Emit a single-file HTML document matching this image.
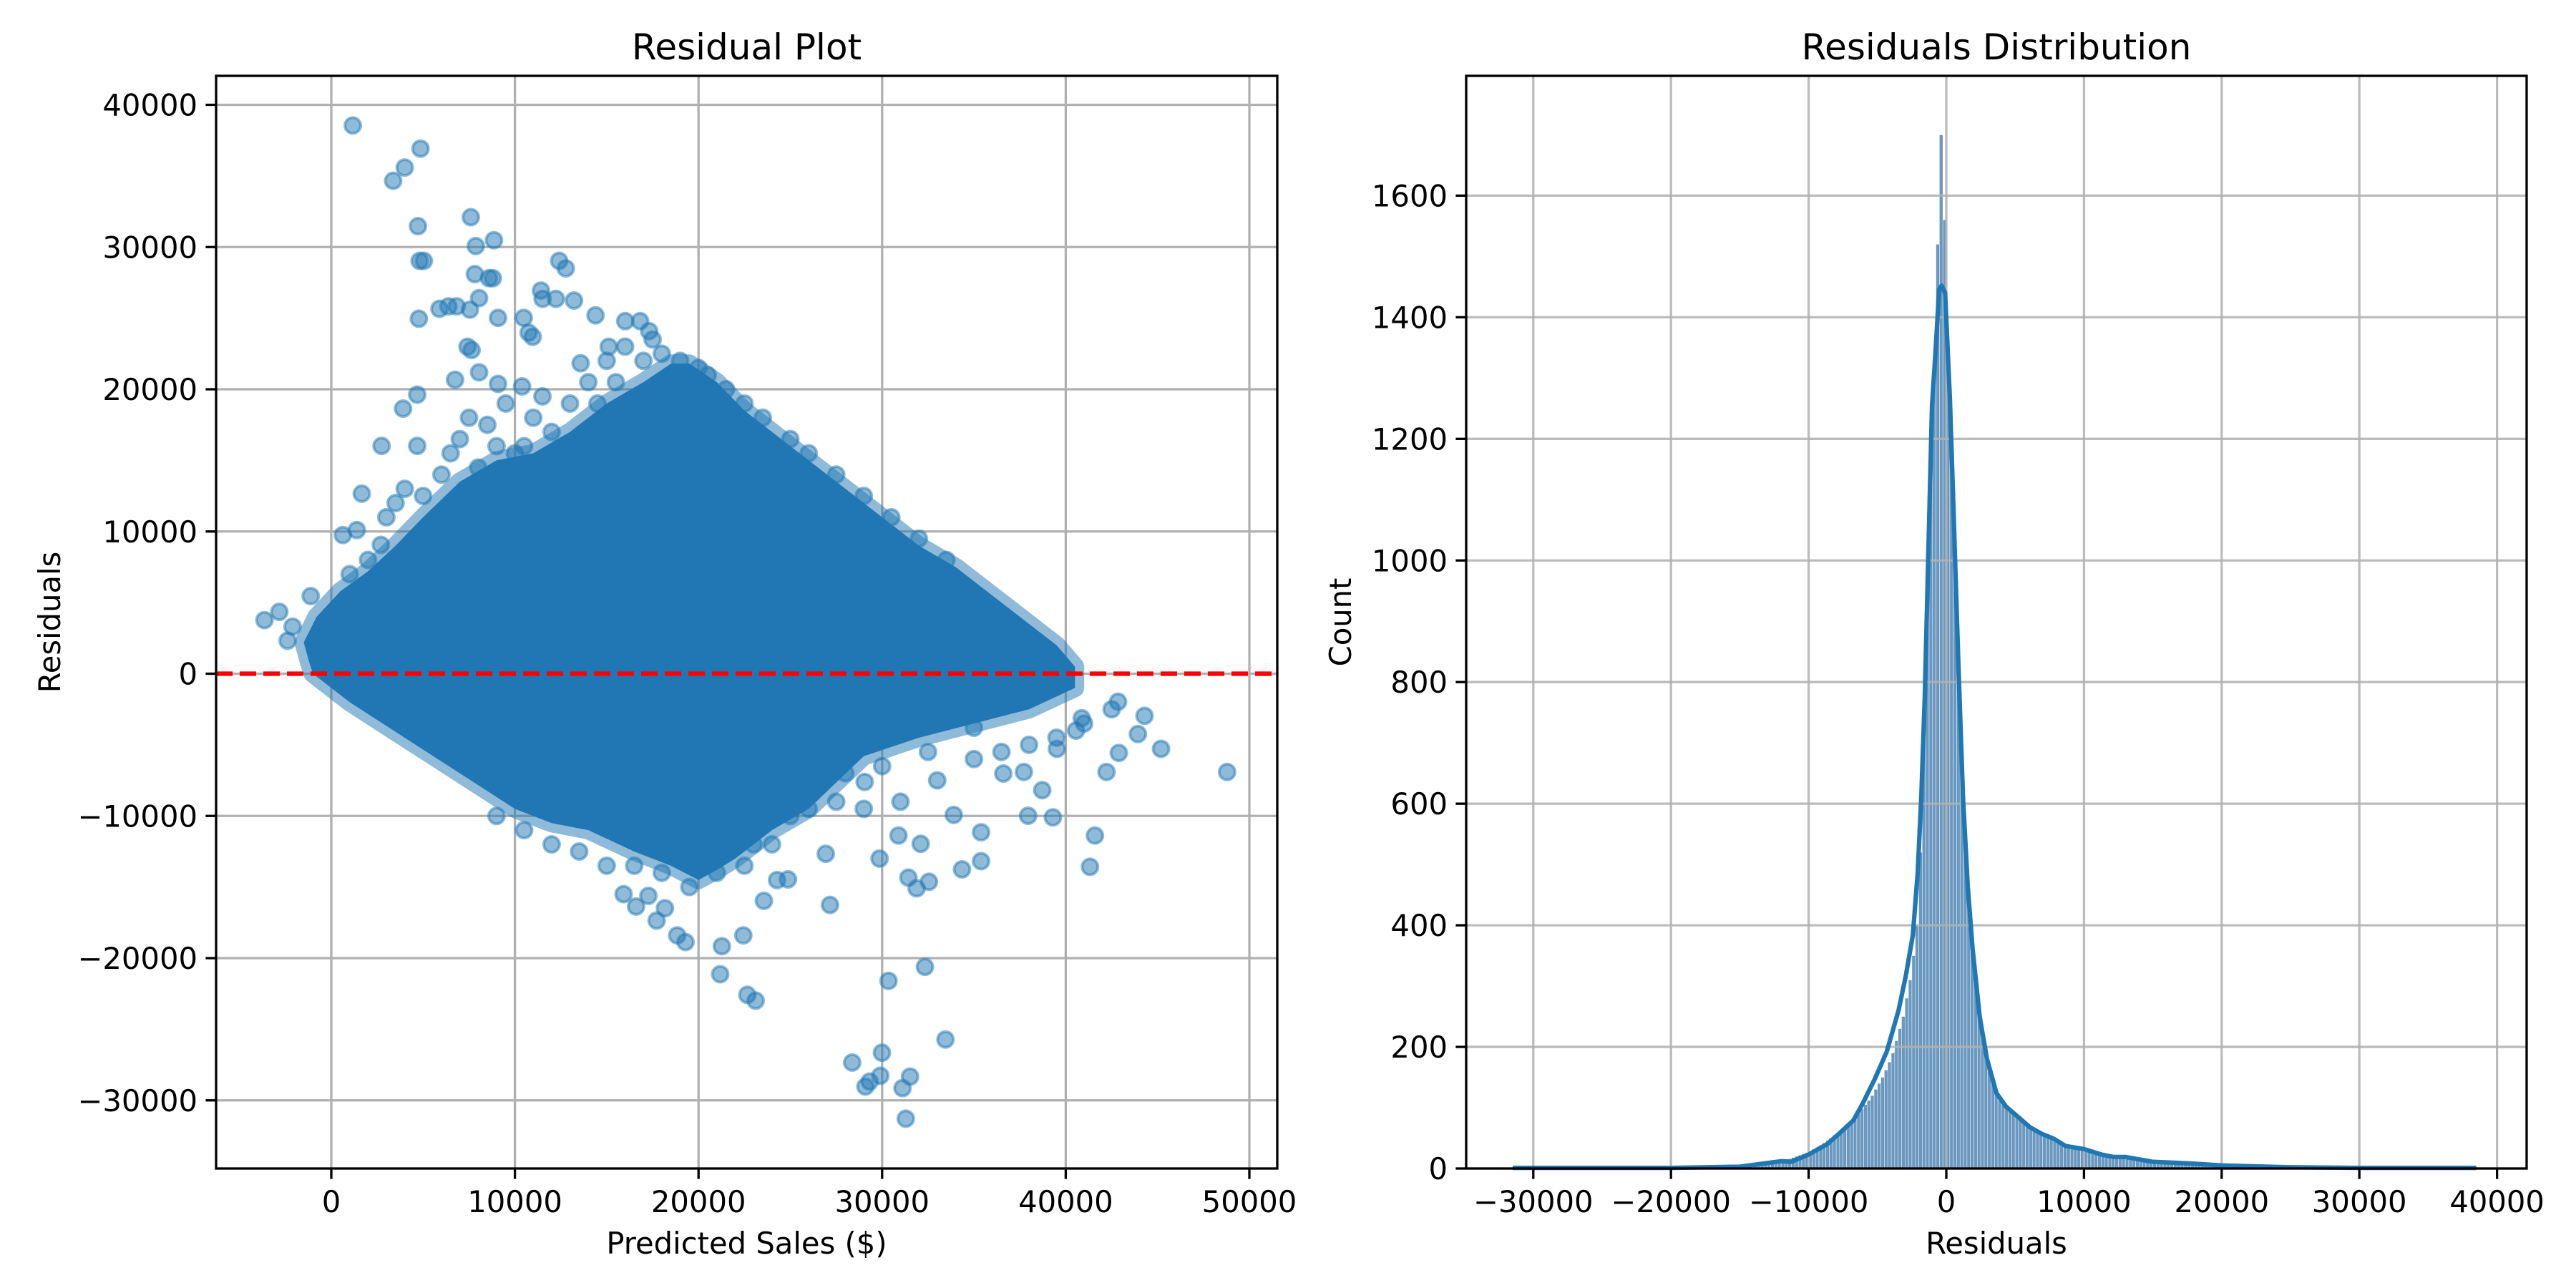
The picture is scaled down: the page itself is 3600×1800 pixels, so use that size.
<!DOCTYPE html>
<html><head><meta charset="utf-8"><style>
html,body{margin:0;padding:0;background:#fff}
svg{display:block}
text{font-family:"DejaVu Sans","Liberation Sans",sans-serif;fill:#000}
</style></head><body>
<svg id="fig" width="3600" height="1800" viewBox="0 0 3600 1800" xmlns="http://www.w3.org/2000/svg">
<rect width="3600" height="1800" fill="#fff"/>
<g id="left"></g>
<g id="right"></g>
</svg>
<script>
// ---------- Residual plot data ----------
const outlierX = [1170,4860,4000,3370,4720,7600,8860,7870,4810,5040,12410,12770,7820,8590,8800,11420,12230,11510,13220,9080,4770,5890,6380,6830,7550,8050,14390,16010,16820,17310,10480,10750,10970,7420,7640,13580,15110,6740,8050,9080,10390,4680,2740,1660,630,1390,2700,-3640,-2830,-2110,-2380,-1120,3910,4680,48790,45190,44290,43930,42850,42220,41590,41320,42890,40560,39300,38720,37950,36600,35390,35390,34350,33900,33450,32330,32550,31880,31430,31520,31290,31110,30350,29990,29900,29320,29090,28370,29860,27160,26930,30890,32100,24870,24280,23560,22440,21270,21180,22660,23110,19290,18840,18170,17720,17270,16600,15920,29050,37720,39520,40870];
const outlierY = [38550,36920,35590,34660,31470,32100,30480,30070,29030,29030,29030,28500,28100,27810,27810,26940,26360,26360,26240,25020,24960,25660,25830,25830,25600,26410,25200,24790,24790,24090,25020,23980,23690,22990,22760,21830,22990,20670,21190,20380,20200,19620,16020,12660,9750,10100,9060,3770,4350,3310,2320,5460,18640,16020,-6910,-5280,-2960,-4240,-1970,-6910,-11380,-13580,-5570,-4000,-10100,-8190,-9990,-7020,-13180,-11150,-13760,-9930,-25720,-20610,-14630,-15090,-14340,-28330,-31290,-29140,-21600,-26650,-28270,-28680,-29030,-27340,-13000,-16260,-12660,-11380,-11960,-14460,-14510,-15970,-18400,-19160,-21130,-22580,-22990,-18870,-18400,-16490,-17360,-15620,-16370,-15500,-7610,-6910,-5280,-3130];
const fringeX = [6000,7000,7500,8500,9500,10500,11500,12000,13000,14000,14500,15500,15000,16000,17000,18000,19000,20000,21500,22500,23500,25000,26000,27500,29000,30500,32000,33500,3000,4000,2000,1000,5000,10000,8000,25000,26000,27500,29000,31000,33000,35000,36500,38000,39500,41000,42500,24000,22500,21000,19500,18000,16500,15000,13500,12000,10500,9000,30000,32500,35000,28000,26500,6500,9000,11000,3500,17500,20500,23000];
const fringeY = [14000,16500,18000,17500,19000,16000,19500,17000,19000,20500,19000,20500,22000,23000,22000,22500,22000,21500,20000,19000,18000,16500,15500,14000,12500,11000,9500,8000,11000,13000,8000,7000,12500,15500,14500,-10000,-9500,-9000,-9500,-9000,-7500,-6000,-5500,-5000,-4500,-3500,-2500,-12000,-13500,-14000,-15000,-14000,-13500,-13500,-12500,-12000,-11000,-10000,-6500,-5500,-3800,-7000,-8000,15500,16000,18000,12000,23500,21000,-12000];
const denseX = [-1200,-1500,-800,500,2000,3500,5000,7000,9000,11000,13000,15000,17000,18500,19500,21000,22500,24000,26000,28000,30000,32000,34000,36000,38000,39500,40500,40500,38000,35000,32000,29000,26000,24000,22000,21000,20000,18500,16500,14000,12000,10000,7000,4000,1000,-1000];
const denseY = [800,2200,4000,5800,7200,9000,11000,13500,15000,15500,17000,19000,20500,21800,21800,20500,18500,17000,15000,13000,11000,9000,7500,5500,3500,2000,500,-1000,-2500,-3500,-4500,-5800,-9500,-11000,-13000,-13800,-14500,-13500,-12500,-11000,-10500,-9500,-7000,-4500,-2000,0];
const leftXTicks = [0,10000,20000,30000,40000,50000];
const leftYTicks = [-30000,-20000,-10000,0,10000,20000,30000,40000];

// ---------- Histogram data ----------
const binStart = -14000;
const binWidth = 250;
const histCounts = [4,5,6,8,10,12,10,12, 14,15,16,18,20,22,24,26, 28,32,35,38,42,46,50,55, 58,62,66,72,78,84,90,98, 105,112,120,130,140,150,162,175, 190,210,230,250, 280,310,350,400, 520,700,920,1180, 1330,1520,1700,1560, 1320,1150,990,830, 680,560,460,380, 320,270,225,190, 160,140,125,112, 105,100,95,90,86,82,78,74, 70,66,62,58,55,52,50,48, 44,42,40,37,34,32,31,30, 30,29,28,27,26,25,24,23, 22,21,22,20,18,16,14,13, 12,11,10,10,9,9,8,8, 8,7,7,7,7,6,6,5, 5,5,4,4,3,3,3,2];
const kdeX = [-31500,-25000,-20000,-15000,-13000,-12000,-11265,-10000,-8665,-7800,-6760,-6070,-5200,-4330,-3470,-2950,-2430,-2080,-1820,-1560,-1300,-1040,-780,-520,-350,-87,260,520,867,1213,1560,1906,2426,2946,3640,4333,5200,6066,6933,7800,8666,10000,11265,12131,13000,15000,18000,20000,25000,30000,38500];
const kdeY = [1,1,1,3,9,12,11,23,40,57,79,107,147,192,260,316,384,486,610,780,1017,1254,1345,1446,1452,1440,1266,1085,836,610,463,362,249,181,124,102,85,68,57,49,37,32,23,19,19,11,8,5,2,1,1];
const rightXTicks = [-30000,-20000,-10000,0,10000,20000,30000,40000];
const rightYTicks = [0,200,400,600,800,1000,1200,1400,1600];

const NS = "http://www.w3.org/2000/svg";
function mk(parent, tag, attrs, txt){
  const e = document.createElementNS(NS, tag);
  for (const k in attrs) e.setAttribute(k, attrs[k]);
  if (txt !== undefined) e.textContent = txt;
  parent.appendChild(e);
  return e;
}
function fmt(v){ return v < 0 ? "\u2212" + Math.abs(v) : String(v); }

// ---------- Left panel ----------
(function(){
  const g = document.getElementById('left');
  const L=302, R=1785, T=106, B=1633;
  const xmin=-6274, xmax=51520, ymin=-34792, ymax=42038;
  const sx = v => L + (v - xmin) / (xmax - xmin) * (R - L);
  const sy = v => B - (v - ymin) / (ymax - ymin) * (B - T);
  const grid = mk(g,'g',{});
  
  
  leftXTicks.forEach(t=>{
    const l = mk(grid,'line',{x1:sx(t),x2:sx(t),y1:T,y2:B,stroke:'#b0b0b0','stroke-width':3.3});
    
    
  });
  leftYTicks.forEach(t=>{
    const l = mk(grid,'line',{x1:L,x2:R,y1:sy(t),y2:sy(t),stroke:'#b0b0b0','stroke-width':3.3});
    
    
  });
  const clip = mk(g,'clipPath',{id:'lclip'});
  mk(clip,'rect',{x:L,y:T,width:R-L,height:B-T});
  const pts = mk(g,'g',{'clip-path':'url(#lclip)'});
  
  
  const poly = denseX.map((x,i)=>sx(x)+','+sy(denseY[i])).join(' ');
  const halo = mk(pts,'polygon',{points:poly,fill:'#1f77b4','fill-opacity':0.5,stroke:'#1f77b4','stroke-opacity':0.5,'stroke-width':26,'stroke-linejoin':'round'});
  
  
  const dense = mk(pts,'polygon',{points:poly,fill:'#2077b4'});
  
  
  fringeX.forEach((x,i)=>{
    const c = mk(pts,'circle',{cx:sx(x),cy:sy(fringeY[i]),r:11,fill:'#1f77b4','fill-opacity':0.5,stroke:'#1f77b4','stroke-opacity':0.5,'stroke-width':4});
    
    
  });
  outlierX.forEach((x,i)=>{
    const c = mk(pts,'circle',{cx:sx(x),cy:sy(outlierY[i]),r:11,fill:'#1f77b4','fill-opacity':0.5,stroke:'#1f77b4','stroke-opacity':0.5,'stroke-width':4});
    
    
  });
  const zl = mk(g,'line',{x1:L,x2:R,y1:sy(0),y2:sy(0),stroke:'#ff0000','stroke-width':6.25,'stroke-dasharray':'23 10'});
  
  
  const fr = mk(g,'rect',{x:L,y:T,width:R-L,height:B-T,fill:'none',stroke:'#000','stroke-width':3.3});
  
  
  leftXTicks.forEach(t=>{
    const tk = mk(g,'line',{x1:sx(t),x2:sx(t),y1:B,y2:B+14.6,stroke:'#000','stroke-width':3.3});
    
    
    const tl = mk(g,'text',{x:sx(t),y:1694,'font-size':41.7,'text-anchor':'middle'},fmt(t));
    
    
  });
  leftYTicks.forEach(t=>{
    const tk = mk(g,'line',{x1:L-14.6,x2:L,y1:sy(t),y2:sy(t),stroke:'#000','stroke-width':3.3});
    
    
    const tl = mk(g,'text',{x:L-26,y:sy(t)+15,'font-size':41.7,'text-anchor':'end'},fmt(t));
    
    
  });
  const ti = mk(g,'text',{x:(L+R)/2,y:83,'font-size':50,'text-anchor':'middle'},'Residual Plot');
  
  
  const xl = mk(g,'text',{x:(L+R)/2,y:1752,'font-size':41.7,'text-anchor':'middle'},'Predicted Sales ($)');
  
  
  const yl = mk(g,'text',{x:0,y:0,'font-size':41.7,'text-anchor':'middle',transform:`translate(84,${(T+B)/2}) rotate(-90)`},'Residuals');
  
  
})();

// ---------- Right panel ----------
(function(){
  const g = document.getElementById('right');
  const L=2049, R=3531, T=106, B=1633;
  const xmin=-34875, xmax=42150, ymin=0, ymax=1797;
  const sx = v => L + (v - xmin) / (xmax - xmin) * (R - L);
  const sy = v => B - (v - ymin) / (ymax - ymin) * (B - T);
  const bars = mk(g,'g',{});
  
  
  histCounts.forEach((c,i)=>{
    const x0 = binStart + i*binWidth;
    const r = mk(bars,'rect',{x:sx(x0),y:sy(c),width:sx(x0+binWidth)-sx(x0),height:B-sy(c),fill:'#6a98bf',stroke:'#e8eef3','stroke-width':0.6});
    
    
  });
  const grid = mk(g,'g',{});
  
  
  rightXTicks.forEach(t=>{
    const l = mk(grid,'line',{x1:sx(t),x2:sx(t),y1:T,y2:B,stroke:'#b0b0b0','stroke-width':3.3,'stroke-opacity':0.85});
    
    
  });
  rightYTicks.forEach(t=>{
    const l = mk(grid,'line',{x1:L,x2:R,y1:sy(t),y2:sy(t),stroke:'#b0b0b0','stroke-width':3.3,'stroke-opacity':0.85});
    
    
  });
  const kd = mk(g,'polyline',{points:kdeX.map((x,i)=>sx(x)+','+sy(kdeY[i])).join(' '),fill:'none',stroke:'#1f77b4','stroke-width':6.25,'stroke-linejoin':'round'});
  
  
  const fr = mk(g,'rect',{x:L,y:T,width:R-L,height:B-T,fill:'none',stroke:'#000','stroke-width':3.3});
  
  
  rightXTicks.forEach(t=>{
    const tk = mk(g,'line',{x1:sx(t),x2:sx(t),y1:B,y2:B+14.6,stroke:'#000','stroke-width':3.3});
    
    
    const tl = mk(g,'text',{x:sx(t),y:1694,'font-size':41.7,'text-anchor':'middle'},fmt(t));
    
    
  });
  rightYTicks.forEach(t=>{
    const tk = mk(g,'line',{x1:L-14.6,x2:L,y1:sy(t),y2:sy(t),stroke:'#000','stroke-width':3.3});
    
    
    const tl = mk(g,'text',{x:L-26,y:sy(t)+15,'font-size':41.7,'text-anchor':'end'},fmt(t));
    
    
  });
  const ti = mk(g,'text',{x:(L+R)/2,y:83,'font-size':50,'text-anchor':'middle'},'Residuals Distribution');
  
  
  const xl = mk(g,'text',{x:(L+R)/2,y:1752,'font-size':41.7,'text-anchor':'middle'},'Residuals');
  
  
  const yl = mk(g,'text',{x:0,y:0,'font-size':41.7,'text-anchor':'middle',transform:`translate(1888,${(T+B)/2}) rotate(-90)`},'Count');
  
  
})();
</script>
</body></html>
